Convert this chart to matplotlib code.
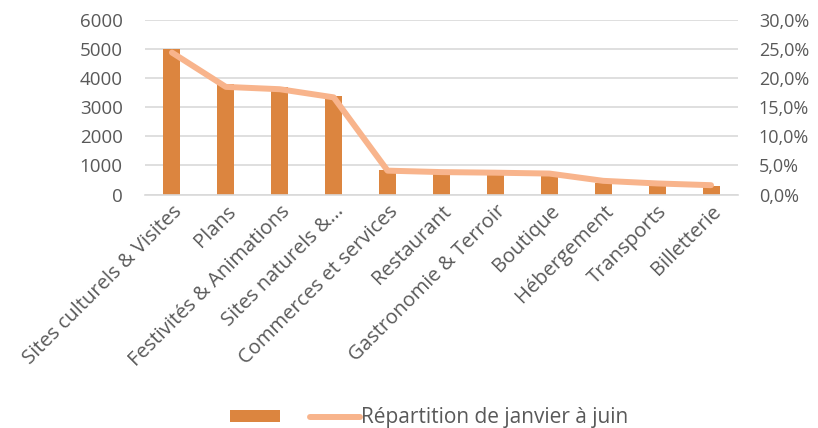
import matplotlib
matplotlib.use("Agg")
import matplotlib.pyplot as plt
from matplotlib.ticker import FuncFormatter
from matplotlib.patches import Patch
from matplotlib.lines import Line2D

categories = ["Sites culturels & Visites", "Plans", "Festivités & Animations",
              "Sites naturels &...", "Commerces et services", "Restaurant",
              "Gastronomie & Terroir", "Boutique", "Hébergement", "Transports",
              "Billetterie"]
values = [5020, 3790, 3680, 3400, 840, 780, 760, 740, 410, 330, 300]
pct = [24.4, 18.5, 18.1, 16.7, 4.1, 3.85, 3.75, 3.6, 2.35, 1.9, 1.6]
left_ticks = [0, 1000, 2000, 3000, 4000, 5000, 6000]
right_ticks = [0, 5, 10, 15, 20, 25, 30]
legend_label = "Répartition de janvier à juin"

bar_color = "#DC853F"
line_color = "#F8B48C"
text_color = "#595959"
grid_color = "#D9D9D9"
FONT = ["Open Sans", "DejaVu Sans"]

plt.rcParams["font.family"] = FONT

fig = plt.figure(figsize=(8.18, 4.28), dpi=100)
ax = fig.add_axes([145/818, 1-194.5/428, (738-145)/818, (194.5-20)/428])
ax2 = ax.twinx()

x = list(range(len(categories)))
ax.bar(x, values, width=0.315, color=bar_color, zorder=2)
ax.set_xlim(-0.5, len(categories)-0.5)
ax.set_ylim(0, 6000)
ax.set_yticks(left_ticks)
ax.yaxis.grid(True, color=grid_color, linewidth=1.2, zorder=0)
ax.set_axisbelow(True)

ax2.plot(x, pct, color=line_color, linewidth=4.3, solid_capstyle="round",
         solid_joinstyle="round", zorder=3)
ax2.set_ylim(0, 30)
ax2.set_yticks(right_ticks)
ax2.yaxis.set_major_formatter(FuncFormatter(lambda v, p: f"{v:.1f}%".replace(".", ",")))

for a in (ax, ax2):
    for s in a.spines.values():
        s.set_visible(False)
    a.tick_params(length=0, labelcolor=text_color)
ax.spines["bottom"].set_visible(True)
ax.spines["bottom"].set_color(grid_color)
ax.spines["bottom"].set_linewidth(1.2)
ax.tick_params(axis="y", pad=16, labelsize=13.5)
ax2.tick_params(axis="y", pad=15, labelsize=13)

ax.set_xticks(x)
ax.set_xticklabels(categories, rotation=45, ha="right", rotation_mode="anchor",
                   fontsize=14.5, color=text_color)
ax.tick_params(axis="x", pad=5)

handles = [Patch(facecolor=bar_color, edgecolor="none"),
           Line2D([0], [0], color=line_color, linewidth=4.3, solid_capstyle="round")]
fig.legend(handles, ["", legend_label], loc="center", bbox_to_anchor=(429/818, 1-418/428),
           ncol=2, frameon=False, fontsize=15, labelcolor=text_color,
           handlelength=2.4, handletextpad=0.05, columnspacing=1.4, handleheight=0.55)

fig.savefig("out.png", dpi=100)
